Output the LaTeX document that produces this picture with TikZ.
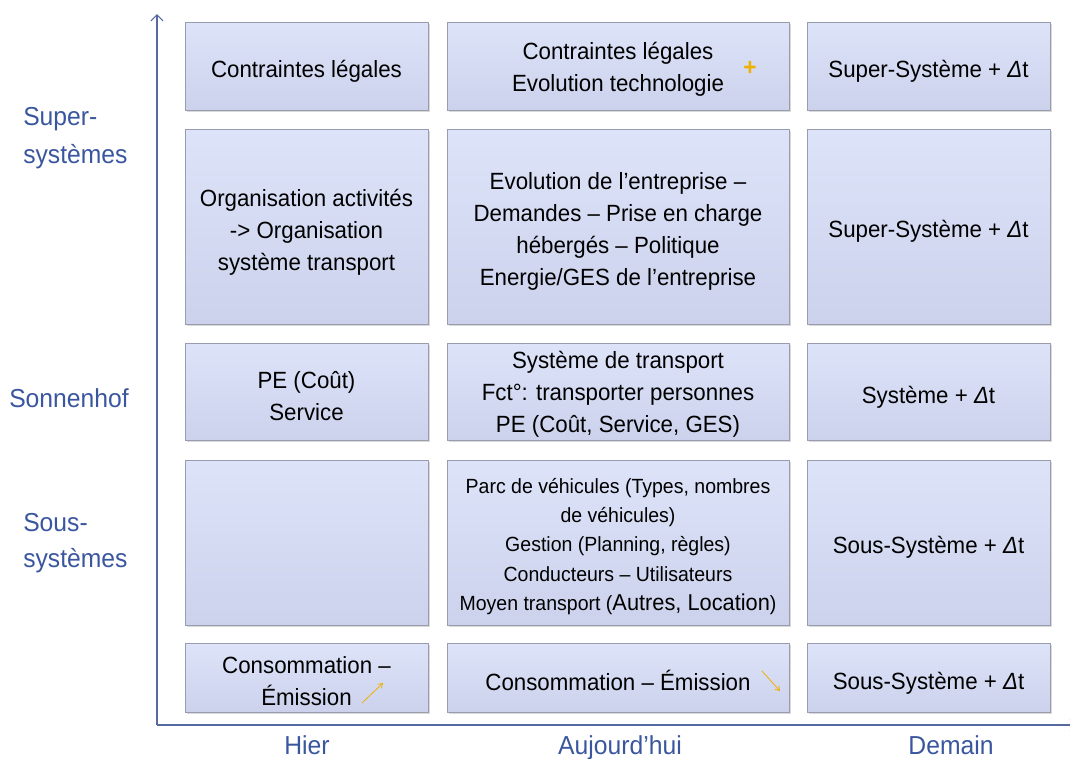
\documentclass[tikz,border=0pt]{standalone}
\usepackage{fontspec}
\setmainfont{Liberation Sans}[FakeStretch=0.95]
\usepackage{xcolor}
\usepackage{tikz}
\usetikzlibrary{arrows.meta,shadows}

\definecolor{axisblue}{RGB}{86,106,160}
\definecolor{labblue}{RGB}{57,86,158}
\definecolor{celltop}{RGB}{221,227,248}
\definecolor{cellbot}{RGB}{204,210,236}
\definecolor{cellline}{RGB}{152,156,172}
\definecolor{trendgold}{RGB}{240,176,0}

\begin{document}
\begin{tikzpicture}[
  x=0.75pt, y=-0.75pt,
  textdrop/.style={execute at begin node={\vbox\bgroup\kern#1\hbox\bgroup},
    execute at end node={\egroup\egroup}},
  textdrop/.default=7.5pt,
  cell/.style={draw=cellline, line width=0.6pt, top color=celltop, bottom color=cellbot,
    align=center, inner sep=0pt, outer sep=0pt, text=black,
    font=\fontsize{17.6}{24}\selectfont,
    drop shadow={shadow xshift=1.2pt, shadow yshift=-1.8pt, opacity=0.3}},
  narrow/.style={minimum width=182.25pt},
  wide/.style={minimum width=256.5pt},
  dense/.style={font=\fontsize{15.4}{22}\selectfont},
  axlbl/.style={text=labblue, font=\fontsize{19.5}{27}\selectfont, inner sep=0pt},
  axis/.style={draw=axisblue, line width=0.9pt, -{Straight Barb[length=4.5pt,width=9pt]}},
  trend/.style={draw=trendgold, line width=0.6pt, -{Straight Barb[length=3pt,width=4pt]}},
  plusmark/.style={text=trendgold, font=\fontsize{18}{18}\selectfont\bfseries, inner sep=0pt}
]
\useasboundingbox (0,0) rectangle (1070,758);

% Axes
\coordinate (O) at (157,725);
\coordinate (ytop) at (157,14);
\coordinate (xend) at (1077,725);
\draw[axis] (O) -- (ytop);
\draw[axis] (O) -- (xend);

% Hier
\node[cell, narrow, minimum height=66pt, textdrop]        (h1) at (306.5,66)    {Contraintes légales};
\node[cell, narrow, minimum height=146.25pt, textdrop=9pt] (h2) at (306.5,226.5) {Organisation activités\\-> Organisation\\système transport};
\node[cell, narrow, minimum height=72.75pt, textdrop]     (h3) at (306.5,391.5) {PE (Coût)\\Service};
\node[cell, narrow, minimum height=123.75pt]              (h4) at (306.5,542.5) {};
\node[cell, narrow, minimum height=51.75pt, textdrop=6pt] (h5) at (306.5,677.5) {Consommation –\\Émission};

% Aujourd'hui
\node[cell, wide, minimum height=66pt, textdrop=4.5pt]  (a1) at (618,66) {Contraintes légales\\Evolution technologie};
\node[cell, wide, minimum height=146.25pt, textdrop]    (a2) at (618,226.5) {Evolution de l’entreprise –\\Demandes – Prise en charge\\hébergés – Politique\\Energie/GES de l’entreprise};
\node[cell, wide, minimum height=72.75pt, textdrop=4.5pt] (a3) at (618,391.5) {Système de transport\\Fct°: transporter personnes\\PE (Coût, Service, GES)};
\node[cell, wide, dense, minimum height=123.75pt, textdrop=6pt] (a4) at (618,542.5) {Parc de véhicules (Types, nombres\\de véhicules)\\Gestion (Planning, règles)\\Conducteurs – Utilisateurs\\Moyen transport ({\fontsize{17.2}{22}\selectfont Autres, Location})};
\node[cell, wide, minimum height=51.75pt, textdrop=4.5pt] (a5) at (618,677.5) {Consommation – Émission};

% Demain
\node[cell, narrow, minimum height=66pt, textdrop]      (d1) at (928.5,66)    {Super-Système + \textit{Δ}t};
\node[cell, narrow, minimum height=146.25pt, textdrop]  (d2) at (928.5,226.5) {Super-Système + \textit{Δ}t};
\node[cell, narrow, minimum height=72.75pt, textdrop=8pt] (d3) at (928.5,391.5) {Système + \textit{Δ}t};
\node[cell, narrow, minimum height=123.75pt, textdrop]  (d4) at (928.5,542.5) {Sous-Système + \textit{Δ}t};
\node[cell, narrow, minimum height=51.75pt, textdrop=8pt] (d5) at (928.5,677.5) {Sous-Système + \textit{Δ}t};

% tendances
\node[plusmark] (plus) at (750,68) {+};
\coordinate (upA) at (362,703);
\coordinate (upB) at (383,683);
\draw[trend] (upA) -- (upB);
\coordinate (dnA) at (762,671);
\coordinate (dnB) at (780,691);
\draw[trend] (dnA) -- (dnB);

% Niveaux
\node[axlbl, align=left, anchor=west] (lsup) at (23,138) {Super-\\[2pt]systèmes};
\node[axlbl, anchor=west] (lsys) at (9,398) {Sonnenhof};
\node[axlbl, align=left, anchor=west] (lsous) at (23,543) {Sous-\\systèmes};

% Temps
\node[axlbl, anchor=base] (thier) at (307,754) {Hier};
\node[axlbl, anchor=base] (tauj)  at (620,754) {Aujourd’hui};
\node[axlbl, anchor=base] (tdem)  at (951,754) {Demain};
\end{tikzpicture}
\end{document}
